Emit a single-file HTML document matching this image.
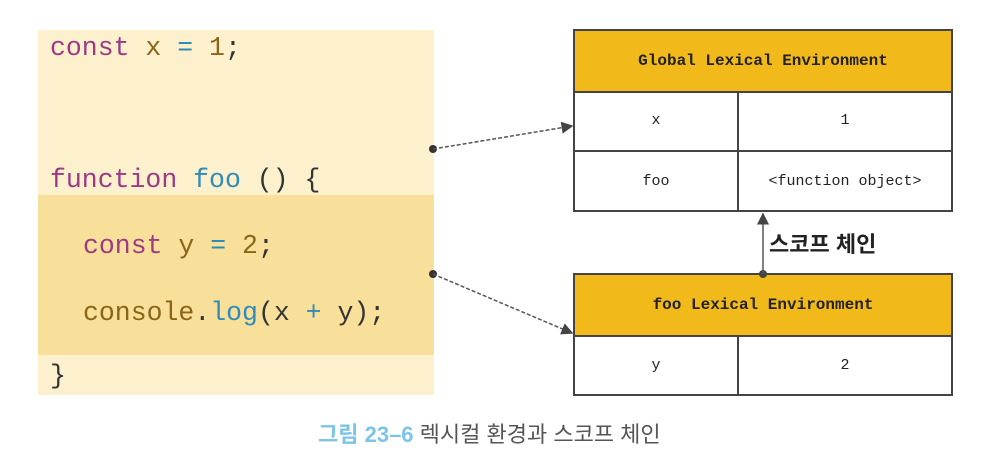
<!DOCTYPE html>
<html><head><meta charset="utf-8"><style>
body{margin:0;width:987px;height:463px;background:#fff;position:relative;overflow:hidden;font-family:"Liberation Sans","Noto Sans CJK KR",sans-serif}
.code{position:absolute;left:38px;top:30px;width:396px;height:365px;background:#fdf0cd}
.band{position:absolute;left:38px;top:195px;width:396px;height:160px;background:#f9e09a}
.ln{position:absolute;font-family:"Liberation Mono",monospace;font-size:26.5px;white-space:pre;line-height:30px;color:#8a6a1a}
.k{color:#9c3a86}.b{color:#2f8bb8}.d{color:#333}.o{color:#8a6518}
.t{position:absolute;border:2px solid #444;box-sizing:border-box;font-family:"Liberation Mono",monospace;font-size:15px;color:#222}
.h{position:absolute;left:0;right:0;background:#f2b91a;border-bottom:2px solid #444;display:flex;align-items:center;justify-content:center;font-weight:bold;font-size:16px}
.c{position:absolute;display:flex;align-items:center;justify-content:center}
</style></head><body>
<div class="code"></div><div class="band"></div>
<div class="ln" style="left:50px;top:33px"><span class="k">const</span> <span class="o">x</span> <span class="b">=</span> <span class="o">1</span><span class="d">;</span></div>
<div class="ln" style="left:50px;top:165px"><span class="k">function</span> <span class="b">foo</span> <span class="d">() {</span></div>
<div class="ln" style="left:83px;top:231px"><span class="k">const</span> <span class="o">y</span> <span class="b">=</span> <span class="o">2</span><span class="d">;</span></div>
<div class="ln" style="left:83px;top:298px"><span class="o">console</span><span class="d">.</span><span class="b">log</span><span class="d">(x </span><span class="b">+</span><span class="d"> y);</span></div>
<div class="ln" style="left:50px;top:361px"><span class="d">}</span></div>

<div class="t" style="left:573px;top:29px;width:380px;height:183px">
 <div class="h" style="top:0;height:60px">Global Lexical Environment</div>
 <div style="position:absolute;left:0;right:0;top:119px;border-top:2px solid #444"></div>
 <div style="position:absolute;left:162px;top:60px;bottom:0;border-left:2px solid #444"></div>
 <div class="c" style="left:0;width:162px;top:60px;height:59px">x</div>
 <div class="c" style="left:164px;right:0;top:60px;height:59px">1</div>
 <div class="c" style="left:0;width:162px;top:121px;height:59px">foo</div>
 <div class="c" style="left:164px;right:0;top:121px;height:59px">&lt;function object&gt;</div>
</div>
<div class="t" style="left:573px;top:273px;width:380px;height:123px">
 <div class="h" style="top:0;height:60px">foo Lexical Environment</div>
 <div style="position:absolute;left:162px;top:60px;bottom:0;border-left:2px solid #444"></div>
 <div class="c" style="left:0;width:162px;top:62px;height:57px">y</div>
 <div class="c" style="left:164px;right:0;top:62px;height:57px">2</div>
</div>
<svg width="987" height="463" style="position:absolute;left:0;top:0">
 <defs><marker id="a" markerWidth="8" markerHeight="8" refX="7" refY="4" orient="auto"><path d="M0,0 L8,4 L0,8z" fill="#444"/></marker></defs>
 <circle cx="433" cy="149" r="4" fill="#333"/><circle cx="433" cy="274" r="4" fill="#333"/>
 <line x1="433" y1="149" x2="572" y2="126" stroke="#555" stroke-width="1.5" stroke-dasharray="4,2" marker-end="url(#a)"/>
 <line x1="433" y1="274" x2="572" y2="333" stroke="#555" stroke-width="1.5" stroke-dasharray="4,2" marker-end="url(#a)"/>
 <circle cx="763" cy="274" r="4" fill="#444"/>
 <line x1="763" y1="274" x2="763" y2="214" stroke="#555" stroke-width="1.5" marker-end="url(#a)"/>
</svg>
<div style="position:absolute;left:769px;top:227px;font-size:22px;font-weight:bold;color:#222">스코프 체인</div>
<div style="position:absolute;left:318px;top:417px;font-size:22px;color:#555"><span style="color:#7cc4e8;font-weight:bold">그림 23–6</span> 렉시컬 환경과 스코프 체인</div>
</body></html>
